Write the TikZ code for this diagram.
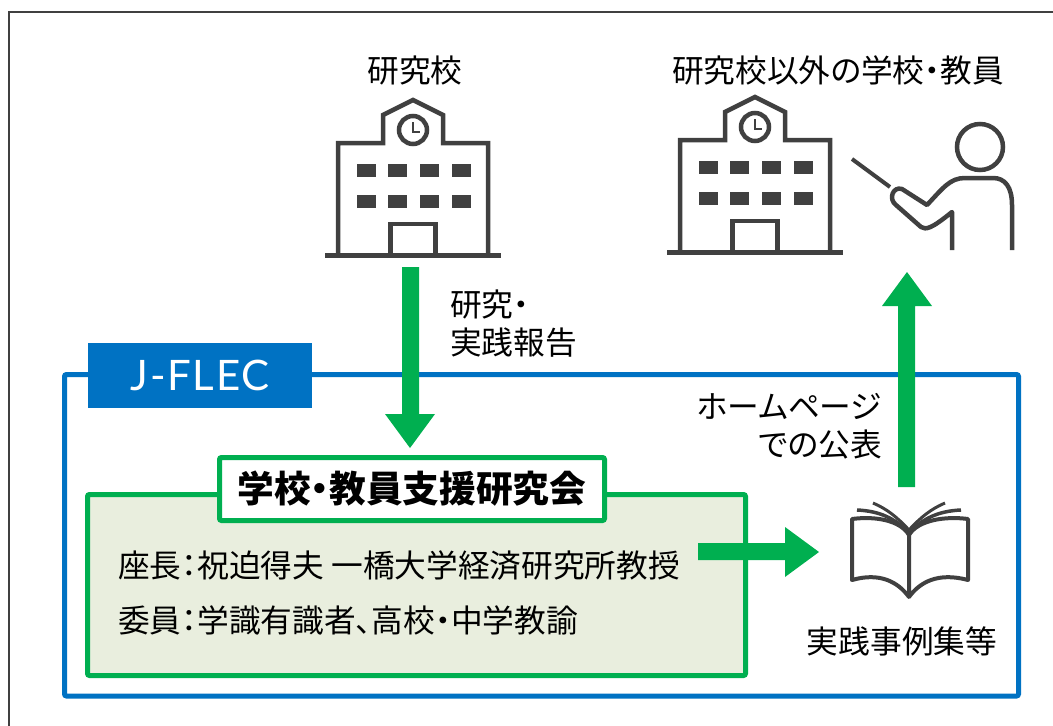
\documentclass[tikz,border=0pt]{standalone}
\usepackage{fontspec}
\setmainfont[RawFeature=+palt]{Noto Sans CJK JP}
\newfontfamily\latinfont[LetterSpace=4]{Lato}
\definecolor{flecblue}{HTML}{0072C3}
\definecolor{flecgreen}{HTML}{00AF50}
\definecolor{flecpale}{HTML}{E9EEDE}
\definecolor{flecgray}{HTML}{404040}
\tikzset{
  labeltext/.style={font=\fontsize{31.7}{38}\selectfont, inner sep=0pt, align=left},
  greenarrow/.style={draw=none, fill=flecgreen},
  icon/.style={draw=flecgray, line width=4.5pt, line cap=butt, line join=miter},
}
% school icon, origin at the middle of its ground line
\newcommand{\schoolicon}[2]{
  \begin{scope}[shift={(#1,#2)}]
    \draw[icon] (-75,0) -- (-75,-112) -- (-30,-112) -- (-30,-140) -- (0,-155) -- (30,-140) -- (30,-112) -- (75,-112) -- (75,0);
    \draw[icon] (-22.5,0) -- (-22.5,-31) -- (22.5,-31) -- (22.5,0);
    \draw[flecgray, line width=5pt] (-88,0) -- (88,0);
    \draw[flecgray, line width=4.5pt] (0,-125) circle (14);
    \draw[flecgray, line width=2.5pt] (0,-133) -- (0,-123) -- (7,-123);
    \foreach \wx in {-56,-25,7,39} {
      \fill[flecgray] (\wx,-91) rectangle ++(18.5,13);
      \fill[flecgray] (\wx,-60) rectangle ++(18.5,13);
    }
  \end{scope}
}
\begin{document}
\begin{tikzpicture}[x=1pt, y=-1pt]
  \useasboundingbox (0,0) rectangle (1053,726);
  % Outer frame
  \draw[flecgray, line width=2pt] (9,726) -- (9,12) -- (1053,12);

  % Blue box and its tab
  \draw[flecblue, line width=5pt, rounded corners=2pt] (64.5,374.5) rectangle (1018.5,696);
  \node[fill=flecblue, minimum width=224, minimum height=65, inner sep=0pt, text=white,
        font=\latinfont\fontsize{42}{48}\selectfont] (flec) at (200,375.5) {J-FLEC};

  % Green panel
  \node[draw=flecgreen, fill=flecpale, line width=5pt, rounded corners=2pt, minimum width=658,
        minimum height=181, inner sep=0pt] (panel) at (416.5,585) {};
  \node[draw=flecgreen, fill=white, line width=5pt, rounded corners=2pt, minimum width=385,
        minimum height=63, inner sep=0pt, font=\bfseries\fontsize{36.7}{42}\selectfont] (kenkyukai) at (412,489) {学校・教員支援研究会};
  \node[labeltext, anchor=west] (zacho) at (118,566) {座長：祝迫得夫 一橋大学経済研究所教授};
  \node[labeltext, anchor=west] (iin) at (118,620) {委員：学識有識者、高校・中学教諭};

  % Icons
  \schoolicon{413}{255}
  \schoolicon{755}{252}
  \draw[flecgray, line width=4.5pt] (980,147) circle (23);
  \draw[flecgray, line width=4.5pt, line join=round] (1012,250) -- (1012,205)
    .. controls (1012,187) and (1005,178) .. (993,178) -- (965,178)
    .. controls (950,178) and (943,188) .. (927,205) -- (902,189)
    .. controls (893,186) and (888,199) .. (896,205) -- (921,227)
    .. controls (926,230) and (931,229) .. (952,212) -- (952,250);
  \draw[flecgray, line width=4pt] (852,159) -- (890,187);

  % Book
  \draw[flecgray, line width=4pt, line join=round] (909,597) .. controls (898,582) and (880,572) .. (852,580) -- (852,519)
    .. controls (875,516) and (900,520) .. (909,535) .. controls (918,520) and (945,516) .. (968,519) -- (968,580)
    .. controls (938,572) and (920,582) .. (909,597) -- (909,535);
  \foreach \bs in {-1,1} {
    \draw[flecgray, line width=3.5pt] (909,533) .. controls (909-\bs*14,518) and (909-\bs*30,511) .. (909-\bs*52,510);
    \draw[flecgray, line width=3pt] (909,530) .. controls (909-\bs*12,517) and (909-\bs*22,509) .. (909-\bs*36,503);
  }

  % Labels
  \node[labeltext] (top1) at (415,70) {研究校};
  \node[labeltext] (top2) at (838,70) {研究校以外の学校・教員};
  \node[labeltext, anchor=west] (report) at (450,324) {研究・\\実践報告};
  \node[labeltext, anchor=east, align=right] (web) at (882,426) {ホームページ\\での公表};
  \node[labeltext] (cases) at (902,641) {実践事例集等};

  % Arrows
  \fill[greenarrow] (402,267) -- (419,267) -- (419,414) -- (435,414) -- (410,448) -- (385,414) -- (402,414) -- cycle;
  \fill[greenarrow] (898,487) -- (915,487) -- (915,306) -- (932,306) -- (907,272) -- (882,306) -- (898,306) -- cycle;
  \fill[greenarrow] (698,543) -- (785,543) -- (785,527) -- (819,552) -- (785,577) -- (785,560) -- (698,560) -- cycle;
\end{tikzpicture}
\end{document}
